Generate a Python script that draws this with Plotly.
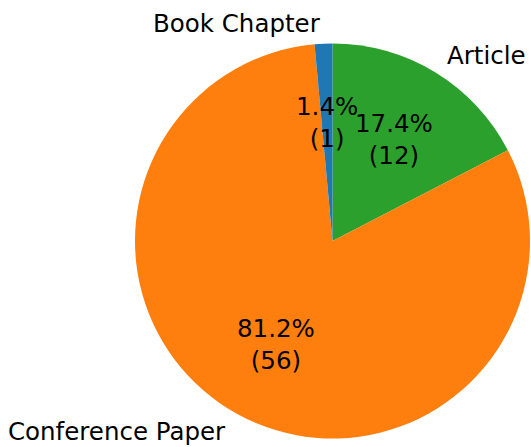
import math
import plotly.graph_objects as go

labels = ["Book Chapter", "Conference Paper", "Article"]
counts = [1, 56, 12]
colors = ["#1f77b4", "#ff7f0e", "#2ca02c"]

W, H = 531, 447
ML, MR, MT, MB = 135, 1, 43, 8
PW, PH = W - ML - MR, H - MT - MB
R = min(PW, PH) / 2.0
CX, CY = ML + PW / 2.0, MT + PH / 2.0

# Slices go counterclockwise from 12 o'clock in the reference; drawing the
# reversed order clockwise from 12 o'clock gives the same layout.
fig = go.Figure(go.Pie(
    labels=labels[::-1], values=counts[::-1], sort=False, direction="clockwise",
    rotation=0, textinfo="none", hoverinfo="label+value+percent",
    marker=dict(colors=colors[::-1], line=dict(color="white", width=0)),
    showlegend=False,
))

total = sum(counts)
font = dict(family="DejaVu Sans", size=24.5, color="black")
start = 90.0
anns = []
for lab, v in zip(labels, counts):
    span = 360.0 * v / total
    mid = math.radians(start + span / 2.0)
    start += span
    # outer label at 1.1 radius
    px = CX + 1.1 * R * math.cos(mid)
    py = CY - 1.1 * R * math.sin(mid)
    anns.append(dict(x=(px - ML) / PW, y=1 - (py - MT) / PH, xref="paper", yref="paper",
                     text=lab, showarrow=False, font=font,
                     xanchor="left" if math.cos(mid) > 0 else "right", yanchor="middle"))
    # inner percentage at 0.6 radius
    px = CX + 0.6 * R * math.cos(mid)
    py = CY - 0.6 * R * math.sin(mid)
    anns.append(dict(x=(px - ML) / PW, y=1 - (py - MT) / PH, xref="paper", yref="paper",
                     text=f"{100.0 * v / total:.1f}%<br>({v})", showarrow=False, font=font,
                     xanchor="center", yanchor="middle", align="center"))

fig.update_layout(
    width=W, height=H, margin=dict(l=ML, r=MR, t=MT, b=MB, pad=0),
    paper_bgcolor="white", plot_bgcolor="white", annotations=anns,
)
fig.write_html("out.html", config={"displayModeBar": False},
               post_script="document.body.style.margin='0';document.body.style.overflow='hidden';")
